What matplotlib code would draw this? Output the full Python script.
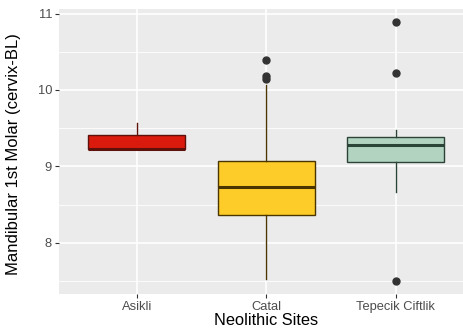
import matplotlib
matplotlib.use("Agg")
import matplotlib.pyplot as plt

plt.rcParams['font.family'] = ['Liberation Sans', 'DejaVu Sans']

sites = ["Asikli", "Catal", "Tepecik Ciftlik"]
q1 = [9.23, 8.37, 9.06]
median = [9.23, 8.73, 9.28]
q3 = [9.41, 9.07, 9.39]
whisker_low = [9.23, 7.53, 8.66]
whisker_high = [9.57, 10.07, 9.47]
outliers = [[], [10.39, 10.18, 10.15], [10.89, 10.22, 7.50]]

fills = ["#D91A0C", "#FDCC29", "#B3D3C1"]
edges = ["#5E100B", "#4A3500", "#2C4438"]

fig = plt.figure(figsize=(4.63, 3.35), dpi=100)
ax = fig.add_axes([59/463, 1-294/335, 414.4/463, 285/335])
ax.set_facecolor("#EBEBEB")
for s in ax.spines.values():
    s.set_visible(False)

positions = [1, 2, 3]
ax.set_xlim(0.4, 3.6)
ax.set_ylim(7.33, 11.06)

for y in [7.5, 8.5, 9.5, 10.5]:
    ax.axhline(y, color="white", lw=0.6, zorder=0)
ax.grid(True, color="white", lw=1.2, zorder=0)
ax.set_axisbelow(True)

for i, p in enumerate(positions):
    stats = [dict(q1=q1[i], med=median[i], q3=q3[i], whislo=whisker_low[i],
                  whishi=whisker_high[i], fliers=outliers[i])]
    ax.bxp(stats, positions=[p], widths=0.75, patch_artist=True, showcaps=False,
           boxprops=dict(facecolor=fills[i], edgecolor=edges[i], lw=1.0),
           medianprops=dict(color=edges[i], lw=2.2, solid_capstyle='butt'),
           whiskerprops=dict(color=edges[i], lw=1.0),
           flierprops=dict(marker='o', markerfacecolor='#333333', markeredgecolor='#333333',
                           markersize=5))

ax.set_xticks(positions)
ax.set_xticklabels(sites)
ax.set_yticks([8, 9, 10, 11])
ax.set_yticklabels(["8", "9", "10", "11"])
ax.tick_params(axis='both', colors="#333333", labelcolor="#4D4D4D", labelsize=9.3, length=3, width=0.8, pad=2)

fig.text((59 + 0.6*129.5 + 129.5)/463, 7/335, "Neolithic Sites", ha='center', va='bottom', fontsize=11.8)
ax.set_ylabel("Mandibular 1st Molar (cervix-BL)", fontsize=12)
ax.yaxis.set_label_coords(-(59 - 21)/414.4, 0.49)

fig.savefig("out.png", dpi=100)
